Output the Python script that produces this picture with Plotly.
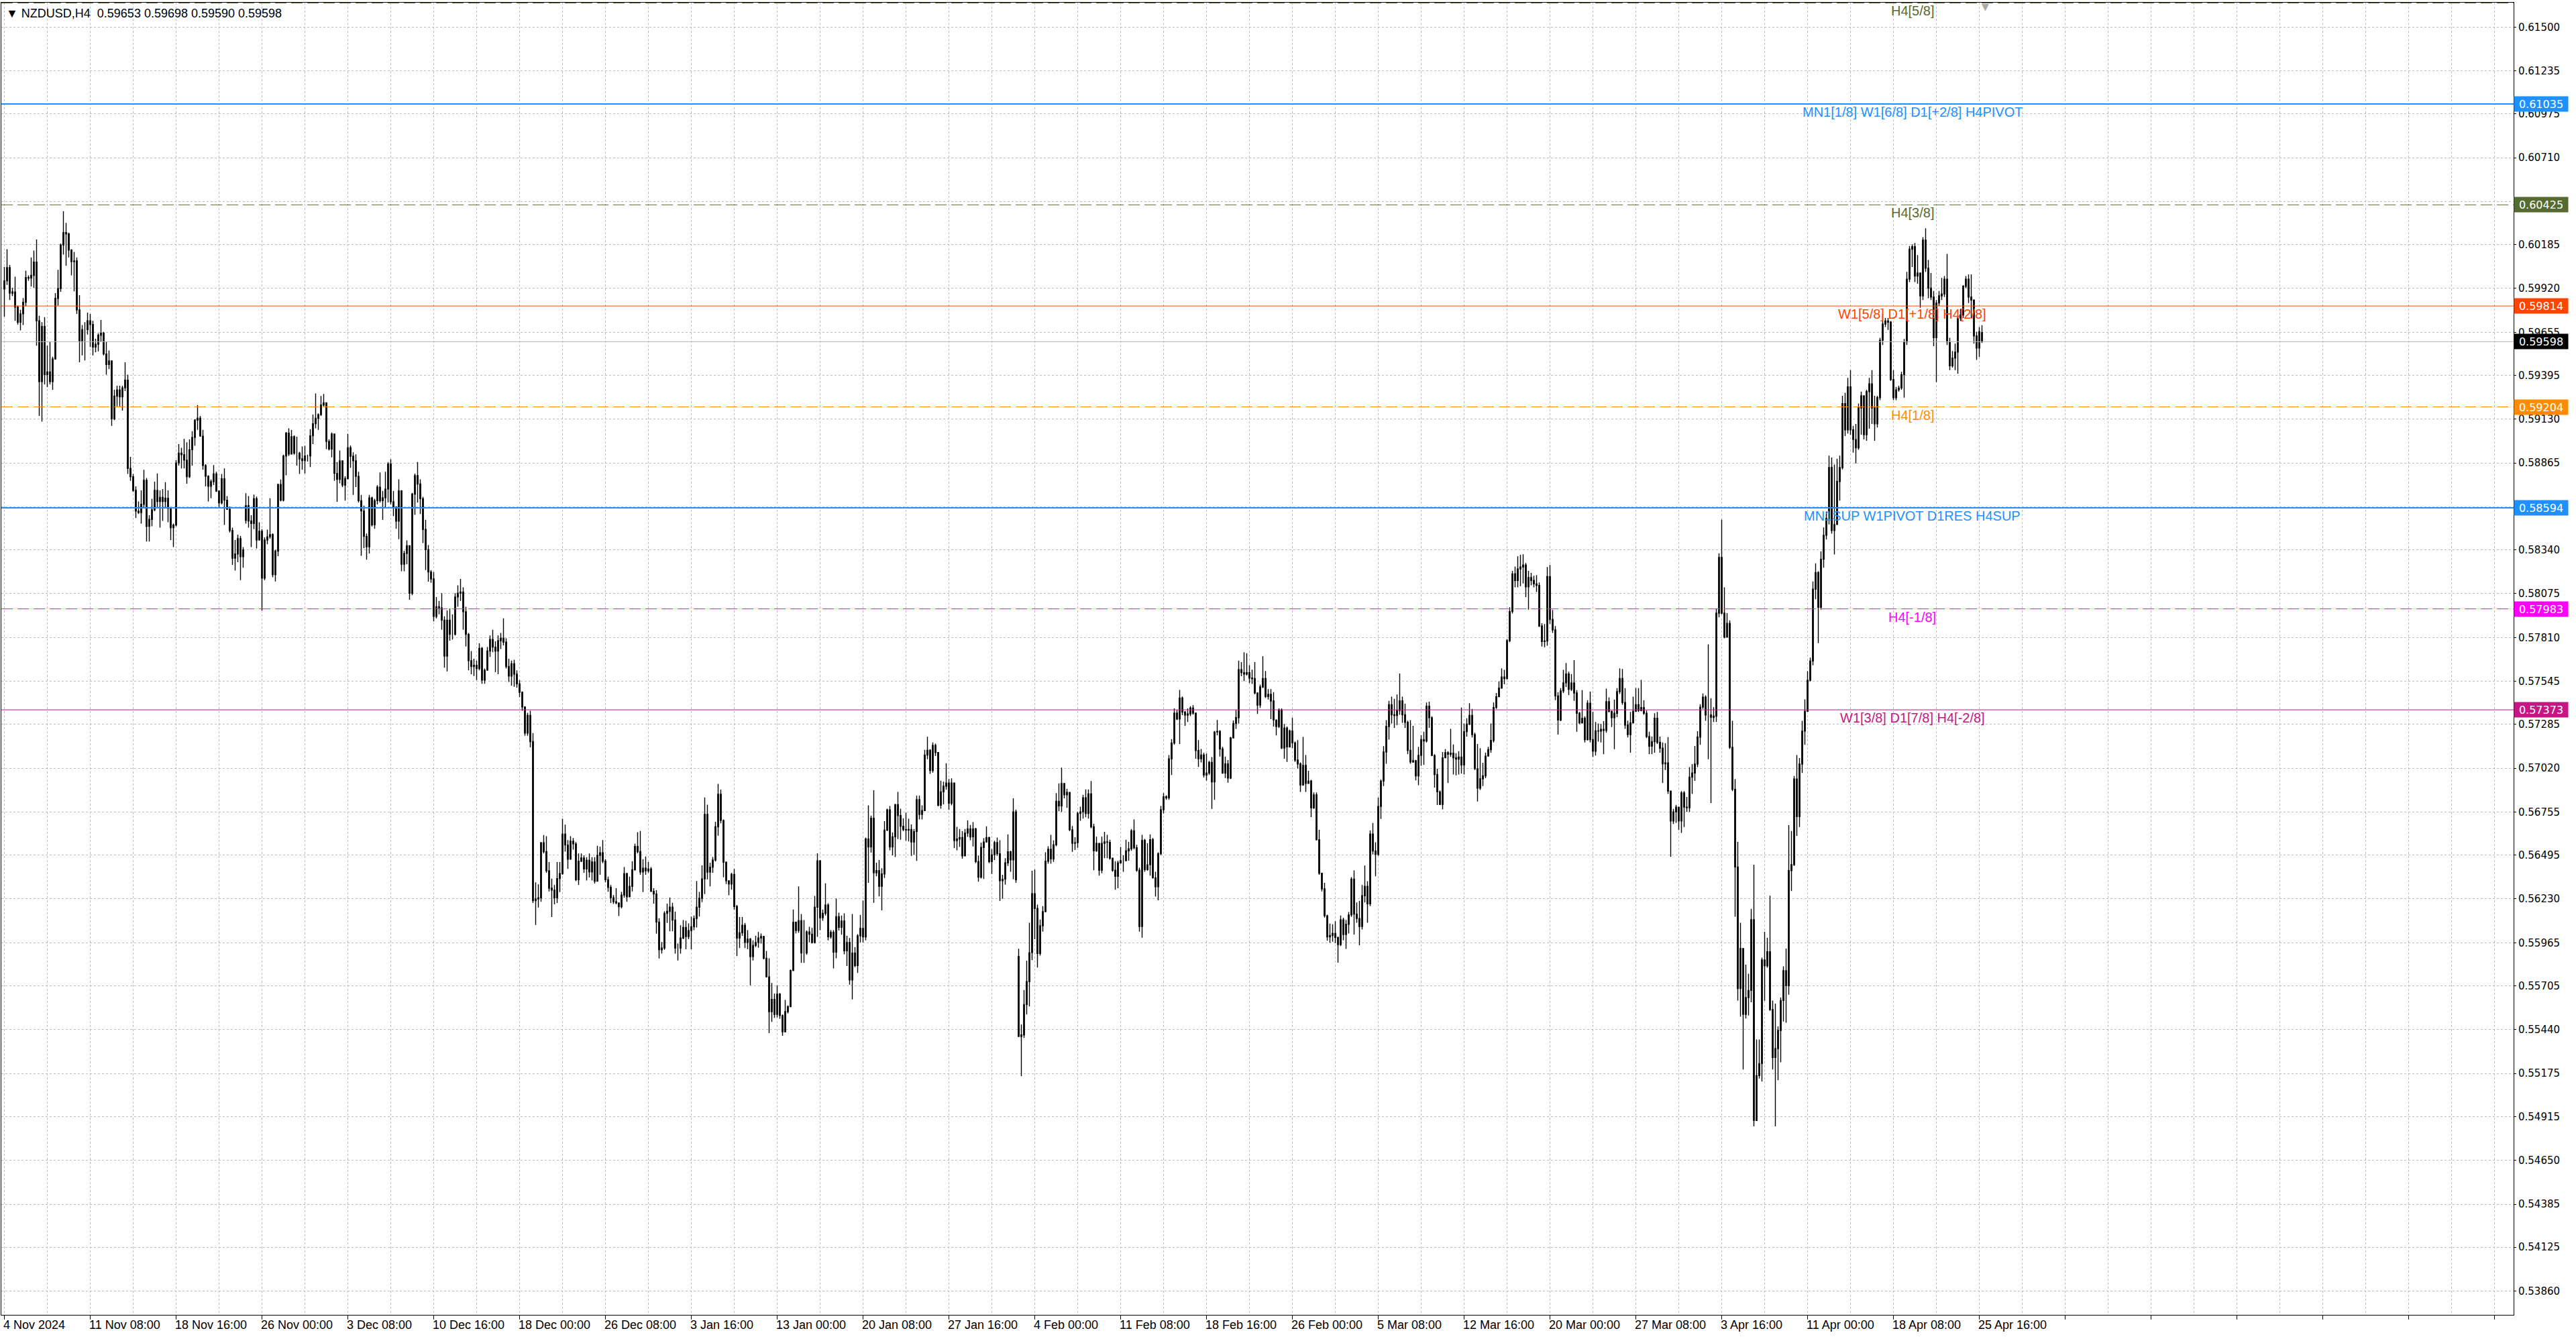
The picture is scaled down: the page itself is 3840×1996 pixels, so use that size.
import numpy as np
import plotly.graph_objects as go

# NZDUSD H4 from 4 Nov 2024 to 25 Apr 2025, prices in points (1e-5)
# open of each bar = previous close, except the first bar and the bars listed below
first_open = 59916
open_overrides = {90: 58519, 378: 55882, 737: 59653}

closes = [
    59966, 60046, 59891, 59899, 59807, 59716, 59766, 59836, 59986, 59982, 59999, 60079,
    59724, 59357, 59690, 59399, 59415, 59357, 59494, 59860, 59919, 60182, 60257, 60249,
    60152, 60082, 60086, 59790, 59602, 59671, 59671, 59724, 59702, 59566, 59582, 59637,
    59649, 59524, 59460, 59482, 59132, 59269, 59307, 59265, 59319, 59365, 58832, 58782,
    58699, 58574, 58565, 58615, 58760, 58482, 58524, 58582, 58699, 58632, 58657, 58632,
    58652, 58590, 58474, 58490, 58865, 58924, 58915, 58882, 58782, 58945, 59019, 59124,
    59135, 59027, 58849, 58785, 58724, 58752, 58799, 58695, 58624, 58769, 58640, 58585,
    58457, 58290, 58315, 58407, 58299, 58340, 58607, 58515, 58499, 58649, 58399, 58452,
    58169, 58399, 58419, 58432, 58190, 58332, 58735, 58640, 58907, 59045, 58919, 59024,
    58924, 58924, 58890, 58879, 58907, 58907, 59029, 59102, 59135, 59157, 59215, 59229,
    58995, 58949, 59040, 58802,
    58766, 58878, 58731, 58770, 58957, 58906, 58878, 58784, 58637, 58575, 58421, 58358,
    58654, 58491, 58637, 58719, 58637, 58654, 58707, 58859, 58630, 58598, 58514, 58696,
    58253, 58318, 58365, 58078, 58677, 58789, 58738, 58649, 58463, 58341, 58206, 58164,
    57938, 57996, 57989, 57915, 57698, 57915, 57829, 57829, 58055, 58078, 58085, 57966,
    57829, 57670, 57635, 57642, 57623, 57745, 57553, 57612, 57728, 57798, 57752, 57728,
    57791, 57805, 57782, 57635, 57577, 57651, 57588, 57530, 57479, 57390, 57232, 57339,
    57181, 56220, 56230, 56237, 56570, 56516, 56400, 56295, 56283, 56237, 56353, 56383,
    56621, 56556, 56470, 56579, 56563, 56346, 56458, 56477, 56411, 56463, 56393, 56453,
    56337, 56493, 56509, 56458, 56346, 56300, 56237, 56213, 56206, 56183, 56253, 56383,
    56243, 56306, 56407, 56547, 56516, 56393, 56416, 56400, 56411, 56276, 56260, 56090,
    55923, 55933, 56143, 56155,
    56180, 56102, 55933, 55933, 55994, 56058, 56003, 56039, 56062, 56112, 56180, 56234,
    56351, 56741, 56392, 56422, 56465, 56666, 56863, 56704, 56452, 56340, 56320, 56378,
    56184, 55994, 56025, 56071, 55967, 55987, 55881, 55949, 55967, 55994, 56003, 55871,
    55759, 55549, 55623, 55532, 55654, 55525, 55427, 55549, 55579, 55797, 56089, 56039,
    56098, 55903, 55903, 56030, 56017, 55967, 56180, 56460, 56116, 56143, 56193, 56001,
    56028, 55908, 56123, 56058, 56096, 55916, 55967, 55740, 55903, 55827, 56007, 56052,
    56001, 56592, 56544, 56718, 56388, 56401, 56306, 56381, 56646, 56768, 56544, 56605,
    56800, 56734, 56669, 56650, 56646, 56650, 56574, 56637, 56830, 56741, 56764, 57099,
    57128, 57006, 57158, 57115, 56796, 56877, 56911, 56931, 56809, 56931, 56582, 56592,
    56601, 56490, 56628, 56653, 56605, 56653, 56456, 56361, 56541, 56574, 56601, 56456,
    56497, 56571, 56503, 56340,
    56349, 56448, 56515, 56466, 56756, 56345, 55399, 55408, 55592, 55730, 55905, 56262,
    56172, 55900, 56068, 56153, 56458, 56530, 56472, 56557, 56820, 56792, 56928, 56859,
    56874, 56648, 56566, 56570, 56747, 56756, 56841, 56747, 56865, 56666, 56521, 56566,
    56403, 56566, 56575, 56572, 56476, 56403, 56367, 56448, 56461, 56461, 56521, 56533,
    56642, 56539, 56403, 56063, 56584, 56407, 56436, 56588, 56358, 56304, 56503, 56769,
    56847, 56841, 57077, 57172, 57353, 57317, 57444, 57359, 57341, 57348, 57384, 57353,
    57127, 57077, 57100, 56979, 56991, 57055, 56937, 57239, 57243, 57136, 56991, 57046,
    56961, 57203, 57290, 57326, 57616, 57598, 57589, 57598, 57565, 57562, 57475, 57402,
    57511, 57562, 57453, 57467, 57426, 57312, 57272, 57372, 57142, 57263, 57149, 57245,
    57173, 57069, 57046, 56919, 57037, 56928, 56943, 56780, 56859, 56588, 56385, 56291,
    56128, 56001, 56009,
    56021, 55998, 55954, 56103, 56015, 56077, 56133, 56350, 56138, 56112, 56063, 56249,
    56306, 56200, 56622, 56520, 56499, 56789, 56942, 57118, 57272, 57404, 57343, 57339,
    57369, 57427, 57343, 57297, 57128, 57058, 57065, 56974, 57097, 57193, 57185, 57395,
    57325, 57097, 56982, 56877, 56801, 57083, 57114, 57105, 57111, 57083, 57075, 57088,
    57040, 57241, 57286, 57339, 57223, 57017, 56900, 56956, 56974, 57093, 57132, 57188,
    57387, 57452, 57504, 57571, 57562, 57791, 57967, 58195, 58155, 58225, 58236, 58248,
    58116, 58172, 58155, 58134, 58125, 57879, 57786, 57789, 58178, 57919, 57856, 57457,
    57311, 57487, 57536, 57589, 57497, 57536, 57475, 57352, 57294, 57322, 57193, 57413,
    57193, 57123, 57246, 57244, 57255, 57248, 57422, 57364, 57325, 57352, 57483, 57562,
    57417, 57281, 57223, 57294, 57364, 57404, 57369, 57387, 57352, 57211, 57153, 57181,
    57322, 57176, 57141, 57047,
    57052, 56882, 56701, 56756, 56785, 56701, 56871, 56785, 56781, 56966, 56991, 57045,
    57208, 57389, 57450, 57342, 57342, 57328, 57335, 57957, 58294, 57957, 57812, 57896,
    57146, 56893, 56423, 55688, 55930, 55532, 55634, 55677, 56104, 54891, 55162, 55235,
    55861, 55825, 55911, 55561, 55272, 55326, 55435, 55616, 55796, 55706, 56401, 56437,
    56955, 56727, 57045, 57244, 57364, 57552, 57668, 58102, 58203, 57993, 58283, 58428,
    58529, 58837, 58457, 58493, 58753, 58837, 59224, 59065, 59325, 59065, 59007, 58956,
    59198, 59271, 59036, 59296, 59343, 59198, 59101, 59260, 59607, 59705, 59723, 59716,
    59369, 59260, 59307, 59318, 59398, 59597, 59976, 60157, 60172, 59995, 60013, 59875,
    60212, 60042, 59922, 59868, 59622, 59832, 59875, 59886, 59976, 59597, 59452, 59499,
    59535, 59741, 59759, 59933, 59976, 59868, 59850, 59633, 59560, 59658, 59598,
]

highs = [
    60049, 60157, 60062, 59924, 59991, 59816, 59791, 59862, 60027, 59999, 60107, 60149,
    60216, 59754, 59716, 59746, 59574, 59599, 59507, 59891, 60032, 60191, 60386, 60316,
    60257, 60157, 60141, 60107, 59879, 59699, 59716, 59774, 59766, 59724, 59616, 59649,
    59729, 59657, 59599, 59545, 59482, 59307, 59332, 59332, 59332, 59474, 59399, 58902,
    58799, 58724, 58632, 58699, 58824, 58774, 58549, 58649, 58752, 58802, 58699, 58707,
    58749, 58699, 58599, 58499, 58882, 58979, 58957, 59010, 58990, 59007, 59057, 59129,
    59215, 59149, 59065, 58857, 58790, 58765, 58852, 58812, 58699, 58799, 58832, 58665,
    58602, 58474, 58399, 58432, 58424, 58357, 58682, 58665, 58549, 58674, 58662, 58507,
    58465, 58415, 58462, 58652, 58440, 58340, 58740, 58765, 58915, 59052, 59074, 59065,
    59032, 59024, 58932, 58965, 58969, 58915, 59069, 59157, 59285, 59165, 59270, 59282,
    59174, 59007, 59049, 59040,
    58871, 58940, 58878, 58784, 59041, 58971, 58929, 58917, 58812, 58672, 58607, 58439,
    58672, 58661, 58649, 58731, 58808, 58696, 58812, 58871, 58887, 58696, 58602, 58766,
    58700, 58334, 58397, 58358, 58684, 58801, 58871, 58766, 58661, 58521, 58369, 58218,
    58206, 58055, 58031, 58078, 57938, 57973, 57985, 57950, 58078, 58125, 58164, 58113,
    57996, 57838, 57728, 57682, 57670, 57775, 57752, 57623, 57752, 57822, 57857, 57787,
    57822, 57838, 57926, 57805, 57682, 57670, 57675, 57612, 57553, 57484, 57395, 57355,
    57367, 57232, 56330, 56318, 56574, 56616, 56609, 56453, 56353, 56314, 56453, 56453,
    56714, 56679, 56586, 56609, 56598, 56574, 56505, 56505, 56493, 56482, 56505, 56482,
    56482, 56551, 56546, 56586, 56470, 56365, 56314, 56253, 56295, 56202, 56272, 56423,
    56388, 56365, 56458, 56563, 56633, 56640, 56470, 56486, 56453, 56423, 56295, 56283,
    56113, 55969, 56155, 56202,
    56238, 56207, 56153, 55960, 56071, 56102, 56098, 56082, 56123, 56130, 56338, 56272,
    56433, 56843, 56800, 56449, 56483, 56696, 56925, 56891, 56710, 56456, 56340, 56388,
    56411, 56193, 56120, 56120, 56085, 56041, 55994, 55980, 56007, 56030, 56021, 56007,
    55916, 55871, 55722, 55658, 55708, 55661, 55532, 55620, 55586, 55803, 56166, 56093,
    56306, 56139, 56102, 56039, 56062, 56055, 56248, 56506, 56465, 56166, 56324, 56204,
    56041, 56041, 56232, 56147, 56130, 56143, 56007, 55994, 56139, 55939, 56017, 56134,
    56221, 56601, 56796, 56734, 56887, 56449, 56465, 56415, 56700, 56775, 56791, 56632,
    56805, 56877, 56775, 56718, 56751, 56714, 56680, 56653, 56854, 56854, 56796, 57131,
    57210, 57135, 57176, 57169, 57033, 56945, 56938, 57050, 56955, 56959, 56918, 56666,
    56653, 56639, 56653, 56704, 56677, 56694, 56660, 56492, 56571, 56598, 56669, 56605,
    56531, 56582, 56601, 56585,
    56376, 56476, 56620, 56521, 56838, 56769, 55929, 55471, 55679, 55857, 56086, 56400,
    56407, 56195, 56105, 56186, 56512, 56548, 56617, 56584, 56870, 56928, 57024, 56901,
    56896, 56877, 56671, 56603, 56756, 56787, 56859, 56892, 56892, 56943, 56684, 56606,
    56557, 56606, 56635, 56617, 56588, 56479, 56458, 56461, 56544, 56494, 56588, 56575,
    56653, 56710, 56557, 56418, 56617, 56593, 56566, 56620, 56599, 56394, 56512, 56792,
    56870, 56856, 57100, 57196, 57381, 57372, 57493, 57453, 57366, 57381, 57395, 57402,
    57348, 57190, 57136, 57113, 57109, 57064, 57087, 57245, 57312, 57250, 57149, 57091,
    57069, 57209, 57308, 57372, 57670, 57661, 57721, 57715, 57643, 57616, 57661, 57471,
    57525, 57697, 57607, 57498, 57498, 57480, 57308, 57381, 57381, 57287, 57272, 57254,
    57326, 57182, 57190, 57055, 57209, 57100, 57004, 56950, 56874, 56874, 56648, 56331,
    56327, 56135, 56081,
    56077, 56095, 55998, 56130, 56116, 56103, 56151, 56362, 56402, 56209, 56218, 56314,
    56432, 56337, 56643, 56689, 56573, 56842, 56952, 57153, 57311, 57427, 57452, 57439,
    57466, 57592, 57452, 57410, 57307, 57311, 57276, 57070, 57149, 57220, 57241, 57417,
    57422, 57334, 57105, 57017, 56886, 57118, 57135, 57123, 57258, 57164, 57111, 57123,
    57387, 57290, 57322, 57413, 57378, 57234, 57167, 57141, 57053, 57114, 57149, 57290,
    57417, 57475, 57545, 57624, 57615, 57800, 57993, 58213, 58239, 58301, 58310, 58313,
    58260, 58213, 58201, 58183, 58187, 58143, 57896, 57891, 58236, 58248, 57976, 57879,
    57480, 57504, 57615, 57656, 57603, 57589, 57673, 57492, 57360, 57492, 57334, 57431,
    57483, 57360, 57299, 57290, 57287, 57304, 57501, 57448, 57364, 57434, 57504, 57624,
    57620, 57504, 57307, 57360, 57452, 57504, 57504, 57554, 57431, 57369, 57241, 57211,
    57352, 57360, 57211, 57176,
    57172, 57208, 56882, 56774, 56799, 56774, 56882, 56882, 56846, 57027, 57045, 57154,
    57244, 57407, 57472, 57461, 57769, 57443, 57389, 57986, 58319, 58522, 58113, 57957,
    57914, 57306, 56955, 56575, 56086, 55778, 55833, 55778, 56170, 56437, 55380, 55380,
    55875, 56031, 55995, 56249, 55616, 55597, 55460, 55634, 55822, 55930, 56676, 56640,
    56973, 57100, 57081, 57306, 57436, 57606, 57689, 58149, 58258, 58211, 58330, 58475,
    58572, 58909, 58898, 58855, 58891, 58909, 59271, 59289, 59379, 59426, 59090, 59101,
    59224, 59296, 59260, 59307, 59379, 59426, 59271, 59271, 59622, 59767, 59741, 59741,
    59723, 59426, 59325, 59332, 59416, 59615, 60020, 60176, 60186, 60194, 60121, 60013,
    60230, 60284, 60092, 60013, 59904, 59850, 59904, 59984, 59995, 60129, 59622, 59542,
    59586, 59759, 59796, 59940, 59995, 60005, 60005, 59839, 59658, 59687, 59698,
]

lows = [
    59749, 59941, 59850, 59874, 59724, 59702, 59666, 59699, 59812, 59966, 59932, 59924,
    59574, 59149, 59115, 59340, 59324, 59340, 59307, 59490, 59816, 59899, 60124, 60057,
    60107, 59999, 59902, 59766, 59474, 59515, 59485, 59641, 59566, 59515, 59535, 59540,
    59599, 59515, 59399, 59432, 59090, 59124, 59207, 59207, 59182, 59299, 58799, 58757,
    58690, 58532, 58557, 58499, 58590, 58390, 58390, 58482, 58574, 58590, 58474, 58515,
    58590, 58507, 58399, 58357, 58482, 58849, 58832, 58832, 58740, 58774, 58849, 58969,
    59065, 59024, 58824, 58724, 58632, 58652, 58732, 58690, 58599, 58615, 58490, 58582,
    58445, 58249, 58215, 58265, 58157, 58232, 58499, 58474, 58357, 58465, 58349, 58399,
    57973, 58157, 58374, 58407, 58174, 58149, 58302, 58632, 58632, 58790, 58907, 58924,
    58915, 58849, 58799, 58824, 58802, 58874, 58840, 58979, 59074, 59065, 59149, 59207,
    58949, 58940, 58899, 58757,
    58630, 58742, 58719, 58637, 58766, 58836, 58672, 58719, 58626, 58304, 58351, 58281,
    58318, 58481, 58467, 58614, 58626, 58521, 58591, 58626, 58614, 58544, 58467, 58404,
    58211, 58211, 58253, 58038, 58066, 58551, 58626, 58556, 58381, 58218, 58148, 58141,
    57908, 57926, 57950, 57857, 57628, 57605, 57791, 57798, 57822, 57996, 58031, 57857,
    57755, 57612, 57588, 57577, 57553, 57612, 57530, 57530, 57640, 57693, 57721, 57600,
    57588, 57740, 57763, 57623, 57542, 57519, 57512, 57507, 57449, 57367, 57216, 57216,
    57146, 56206, 56073, 56178, 56213, 56505, 56388, 56276, 56120, 56197, 56206, 56271,
    56376, 56516, 56411, 56528, 56528, 56337, 56314, 56453, 56388, 56341, 56360, 56341,
    56323, 56365, 56376, 56446, 56330, 56274, 56206, 56199, 56197, 56127, 56173, 56237,
    56213, 56248, 56276, 56400, 56505, 56376, 56271, 56376, 56388, 56271, 56202, 56020,
    55870, 55899, 55923, 56085,
    56034, 56034, 55899, 55858, 55899, 55987, 55926, 55987, 55926, 56041, 56058, 56123,
    56211, 56259, 56347, 56306, 56388, 56456, 56612, 56687, 56361, 56320, 56252, 56286,
    56166, 55885, 55933, 56007, 55933, 55926, 55708, 55858, 55939, 55935, 55960, 55865,
    55756, 55419, 55487, 55511, 55514, 55505, 55403, 55423, 55538, 55576, 55813, 56021,
    56025, 55844, 55844, 55892, 55967, 55960, 55960, 56001, 56041, 56098, 56130, 55980,
    55990, 55810, 55871, 56039, 56014, 55895, 55824, 55712, 55623, 55817, 55783, 55967,
    55967, 55980, 56327, 56510, 56207, 56367, 56245, 56161, 56357, 56639, 56524, 56492,
    56483, 56592, 56588, 56639, 56582, 56578, 56490, 56497, 56460, 56710, 56710, 56762,
    57074, 56986, 56993, 57094, 56789, 56775, 56802, 56891, 56768, 56796, 56537, 56524,
    56544, 56473, 56487, 56605, 56585, 56547, 56446, 56334, 56354, 56351, 56571, 56446,
    56381, 56465, 56490, 56218,
    56231, 56316, 56430, 56394, 56349, 56327, 55399, 55158, 55390, 55531, 55580, 55860,
    55987, 55815, 55887, 56032, 56150, 56443, 56443, 56454, 56548, 56760, 56756, 56838,
    56780, 56639, 56515, 56526, 56539, 56702, 56715, 56724, 56715, 56657, 56403, 56515,
    56371, 56385, 56476, 56476, 56467, 56394, 56286, 56295, 56443, 56394, 56461, 56461,
    56521, 56530, 56394, 56032, 55996, 56394, 56400, 56371, 56353, 56244, 56222, 56494,
    56747, 56829, 56829, 56979, 57163, 57312, 57167, 57341, 57276, 57299, 57335, 57344,
    57077, 57028, 57055, 56964, 56946, 56979, 56774, 56829, 57218, 57091, 56986, 56961,
    56932, 56955, 57200, 57258, 57290, 57576, 57547, 57580, 57535, 57529, 57467, 57348,
    57384, 57504, 57444, 57435, 57317, 57272, 57218, 57263, 57136, 57077, 57058, 57145,
    57142, 57058, 57019, 56877, 56914, 56877, 56932, 56725, 56774, 56584, 56376, 56276,
    56117, 55978, 55965,
    55971, 55963, 55845, 55945, 55980, 55928, 56021, 56121, 56015, 56086, 55950, 56045,
    56209, 56086, 56186, 56499, 56367, 56490, 56713, 56912, 57047, 57193, 57290, 57264,
    57281, 57343, 57294, 57264, 57105, 57047, 57053, 56947, 56917, 57035, 57040, 57176,
    57264, 57093, 56903, 56798, 56798, 56771, 57088, 56930, 57088, 56982, 56977, 56982,
    56988, 56982, 57211, 57281, 57206, 57009, 56819, 56889, 56912, 56960, 57111, 57114,
    57176, 57378, 57452, 57545, 57527, 57557, 57782, 57955, 58113, 58113, 58120, 58137,
    58055, 57979, 58125, 58113, 58085, 57874, 57756, 57751, 57761, 57891, 57838, 57431,
    57223, 57304, 57475, 57510, 57462, 57487, 57427, 57241, 57286, 57290, 57176, 57188,
    57176, 57088, 57097, 57181, 57176, 57105, 57234, 57357, 57269, 57135, 57329, 57469,
    57404, 57258, 57206, 57114, 57290, 57364, 57360, 57364, 57343, 57202, 57105, 57105,
    57114, 57167, 57114, 56930,
    57009, 56864, 56484, 56683, 56690, 56647, 56629, 56665, 56756, 56756, 56864, 56944,
    57027, 57161, 57378, 57306, 57074, 56810, 57299, 57299, 57932, 57950, 57805, 57812,
    57136, 56882, 56122, 55616, 55518, 55199, 55507, 55525, 55605, 54855, 54891, 55144,
    55126, 55615, 55814, 55554, 55199, 54855, 55134, 55243, 55489, 55482, 55651, 56278,
    56430, 56611, 56665, 56991, 57161, 57378, 57545, 57642, 58041, 57776, 57979, 58232,
    58402, 58493, 58438, 58312, 58619, 58637, 58826, 59028, 59043, 59036, 58927, 58862,
    58945, 59036, 59007, 58999, 59072, 59101, 58999, 59079, 59245, 59578, 59687, 59669,
    59361, 59245, 59245, 59296, 59307, 59260, 59578, 59958, 60049, 59958, 59948, 59803,
    59850, 60020, 59861, 59850, 59571, 59354, 59814, 59850, 59868, 59578, 59426, 59441,
    59426, 59405, 59723, 59741, 59922, 59832, 59741, 59586, 59488, 59506, 59590,
]

time_labels = [
    "4 Nov 2024", "11 Nov 08:00", "18 Nov 16:00", "26 Nov 00:00", "3 Dec 08:00",
    "10 Dec 16:00", "18 Dec 00:00", "26 Dec 08:00", "3 Jan 16:00", "13 Jan 00:00",
    "20 Jan 08:00", "27 Jan 16:00", "4 Feb 00:00", "11 Feb 08:00", "18 Feb 16:00",
    "26 Feb 00:00", "5 Mar 08:00", "12 Mar 16:00", "20 Mar 00:00", "27 Mar 08:00",
    "3 Apr 16:00", "11 Apr 00:00", "18 Apr 08:00", "25 Apr 16:00",
]
bars_per_label = 32

price_ticks = [
    "0.61500", "0.61235", "0.60975", "0.60710", "0.60445", "0.60185", "0.59920",
    "0.59655", "0.59395", "0.59130", "0.58865", "0.58600", "0.58340", "0.58075",
    "0.57810", "0.57545", "0.57285", "0.57020", "0.56755", "0.56495", "0.56230",
    "0.55965", "0.55705", "0.55440", "0.55175", "0.54915", "0.54650", "0.54385",
    "0.54125", "0.53860",
]

# murrey-math style levels drawn on the chart
level_prices = [0.61645, 0.61035, 0.60425, 0.59814, 0.59204, 0.58594, 0.57983, 0.57373]
level_names = [
    "H4[5/8]",
    "MN1[1/8] W1[6/8] D1[+2/8] H4PIVOT",
    "H4[3/8]",
    "W1[5/8] D1[+1/8] H4[2/8]",
    "H4[1/8]",
    "MN1SUP W1PIVOT D1RES H4SUP",
    "H4[-1/8]",
    "W1[3/8] D1[7/8] H4[-2/8]",
]

# styles for the levels
level_colors = ["#556B2F", "#1E90FF", "#556B2F", "#FF4500",
                "#FF8C00", "#1E90FF", "#FF00FF", "#C71585"]
level_dashed = [True, False, True, False, True, False, True, False]
level_widths = [1, 2, 1, 1, 1, 2, 1, 1]
level_tagged = [False, True, True, True, True, True, True, True]

assert len(closes) == len(highs) == len(lows) == 738

n = len(closes)
c = np.array(closes) / 1e5
o = np.concatenate([[first_open], closes[:-1]]).astype(float)
for k, v in open_overrides.items():
    o[k] = v
o = o / 1e5
h = np.maximum(np.array(highs) / 1e5, np.maximum(o, c))
l = np.minimum(np.array(lows) / 1e5, np.minimum(o, c))
x = np.arange(n)

GRID = "#BDBDBD"
label_bar = 711  # where the level captions sit

fig = go.Figure()
fig.add_trace(go.Candlestick(
    x=x, open=o, high=h, low=l, close=c,
    increasing=dict(line=dict(color="black", width=1.4), fillcolor="white"),
    decreasing=dict(line=dict(color="black", width=1.4), fillcolor="black"),
    whiskerwidth=0, hoverinfo="skip",
))

for p, name, col, dashed, w in zip(level_prices, level_names, level_colors,
                                   level_dashed, level_widths):
    fig.add_shape(type="line", xref="paper", x0=0, x1=1, yref="y", y0=p, y1=p,
                  line=dict(color=col, width=w, dash="17px,7px" if dashed else "solid"))
    fig.add_annotation(x=label_bar, y=p, text=name, showarrow=False,
                       xanchor="center", yanchor="top", yshift=1,
                       font=dict(family="Liberation Sans, Arial", size=20, color=col))

# bid line
bid = c[-1]
fig.add_shape(type="line", xref="paper", x0=0, x1=1, yref="y", y0=bid, y1=bid,
              line=dict(color="#B4B4B4", width=1))

tags = [(p, col) for p, col, t in zip(level_prices, level_colors, level_tagged) if t]
tags.append((bid, "black"))
for p, col in tags:
    fig.add_annotation(xref="paper", x=1, y=p, text=f"{p:.5f}", showarrow=False,
                       xanchor="left", yanchor="middle", xshift=0,
                       bgcolor=col, width=78, height=20, borderpad=1,
                       font=dict(family="DejaVu Sans", size=16, color="white"))

for k, lab in enumerate(time_labels):
    fig.add_annotation(x=k * bars_per_label, yref="paper", y=0, text=lab,
                       showarrow=False, xanchor="left", yanchor="top",
                       xshift=-4, yshift=-3,
                       font=dict(family="Liberation Sans, Arial", size=18, color="black"))

header = f"\u25BC NZDUSD,H4\u00a0\u00a0{o[-1]:.5f} {h[-1]:.5f} {l[-1]:.5f} {c[-1]:.5f}"
fig.add_annotation(xref="paper", yref="paper", x=0, y=1, text=header, showarrow=False,
                   xanchor="left", yanchor="top", xshift=5, yshift=-4,
                   font=dict(family="Liberation Sans, Arial", size=18, color="black"))
# chart shift marker
fig.add_annotation(x=738.2, yref="paper", y=1, text="\u25BC", showarrow=False,
                   xanchor="center", yanchor="top", yshift=4,
                   font=dict(family="DejaVu Sans", size=14, color="#A8A8A8"))

fig.update_layout(
    width=3840, height=1996,
    margin=dict(l=2, r=93, t=4, b=36),
    paper_bgcolor="white", plot_bgcolor="white",
    showlegend=False, hovermode=False, boxgap=0.5,
    xaxis=dict(
        range=[-1.125, 935.125], rangeslider=dict(visible=False),
        tickvals=list(range(0, 929, 32)), ticktext=[""] * len(range(0, 929, 32)),
        ticks="outside", ticklen=6, tickcolor="black",
        showgrid=True, gridcolor=GRID, griddash="3px,3px", gridwidth=1,
        minor=dict(tickvals=list(range(16, 929, 32)), showgrid=True,
                   gridcolor=GRID, griddash="3px,3px", ticks=""),
        showline=True, linecolor="black", linewidth=1, mirror=True, zeroline=False,
    ),
    yaxis=dict(
        side="right", range=[0.53716, 0.61647],
        tickvals=[float(t) for t in price_ticks], ticktext=price_ticks,
        ticks="outside", ticklen=3, tickcolor="black",
        tickfont=dict(family="DejaVu Sans", size=15, color="black"),
        showgrid=True, gridcolor=GRID, griddash="3px,3px", gridwidth=1,
        showline=True, linecolor="black", linewidth=1, mirror=True, zeroline=False,
    ),
)

fig.write_html("out.html", config={"displayModeBar": False},
               post_script="document.body.style.margin='0';document.body.style.overflow='hidden';")
